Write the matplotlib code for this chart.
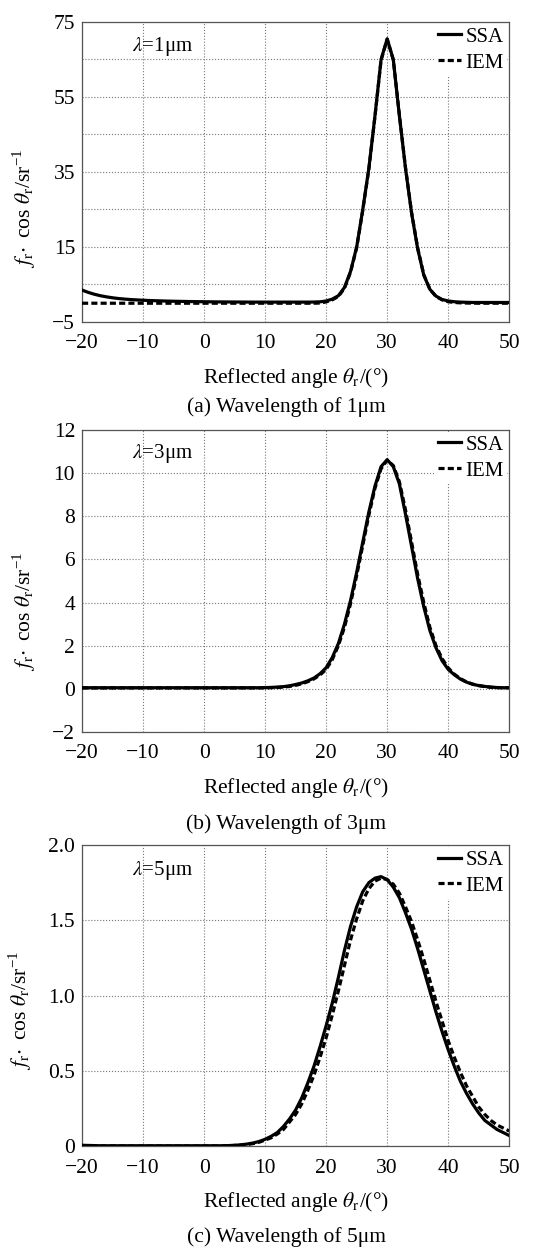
import numpy as np
import matplotlib
matplotlib.use("Agg")
import matplotlib.pyplot as plt

plt.rcParams['font.family'] = ['Liberation Serif', 'DejaVu Serif']
plt.rcParams['mathtext.fontset'] = 'stix'
plt.rcParams['font.size'] = 15

# reflected angle, degrees (one sample per degree)
angle = np.arange(-20, 51)

# (a) wavelength 1 um
ssa_1um = [3.5, 2.9, 2.4, 2.0, 1.7, 1.45, 1.25, 1.1, 0.98, 0.88, 0.8, 0.73, 0.67, 0.62, 0.57,
           0.53, 0.5, 0.47, 0.44, 0.42, 0.4, 0.38, 0.36, 0.35, 0.34, 0.33, 0.32, 0.31, 0.3, 0.3,
           0.3, 0.3, 0.3, 0.3, 0.3, 0.3, 0.3, 0.3, 0.32, 0.38, 0.6, 1.1, 2.0, 4.2, 8.5,
           15.0, 25.0, 36.0, 50.0, 65.0, 70.5, 65.0, 50.0, 36.0, 24.0, 14.5, 7.5, 3.7, 1.9, 1.0,
           0.6, 0.4, 0.3, 0.25, 0.2, 0.2, 0.2, 0.2, 0.2, 0.2, 0.2]
iem_1um = [0.0] * 39 + [0.05, 0.35, 0.9, 1.8, 4.0, 8.3,
           14.8, 24.8, 35.8, 49.8, 64.8, 70.4, 64.9, 50.2, 36.2, 24.2, 14.7, 7.6, 3.7, 1.8, 0.9,
           0.4, 0.2, 0.1, 0.05, 0.02, 0.0, 0.0, 0.0, 0.0, 0.0, 0.0]

# (b) wavelength 3 um
ssa_3um = [0.05] * 30 + [0.055, 0.065, 0.08, 0.1, 0.14, 0.2, 0.27, 0.37, 0.5, 0.7,
           0.98, 1.45, 2.1, 3.0, 4.1, 5.4, 6.8, 8.2, 9.4, 10.3, 10.62, 10.3, 9.5, 8.1, 6.6,
           5.1, 3.8, 2.7, 1.9, 1.3, 0.9, 0.65, 0.45, 0.31, 0.21, 0.15, 0.11, 0.08, 0.06, 0.05, 0.05]
iem_3um = [0.04] * 30 + [0.045, 0.05, 0.06, 0.08, 0.11, 0.16, 0.23, 0.33, 0.46, 0.64,
           0.9, 1.35, 2.0, 2.85, 3.95, 5.25, 6.65, 8.05, 9.3, 10.2, 10.6, 10.35, 9.6, 8.3, 6.8,
           5.3, 4.0, 2.85, 2.0, 1.4, 0.97, 0.68, 0.47, 0.32, 0.22, 0.15, 0.1, 0.07, 0.055, 0.05, 0.05]

# (c) wavelength 5 um
ssa_5um = [0.005, 0.004, 0.003] + [0.002] * 21 + [0.003, 0.005, 0.008, 0.013, 0.02, 0.03,
           0.045, 0.065, 0.09, 0.13, 0.18, 0.24, 0.32, 0.42, 0.53, 0.66,
           0.8, 0.95, 1.12, 1.3, 1.46, 1.59, 1.69, 1.75, 1.78, 1.79, 1.77, 1.72, 1.65, 1.55, 1.44,
           1.31, 1.17, 1.03, 0.89, 0.76, 0.64, 0.53, 0.43, 0.35, 0.28, 0.22, 0.17, 0.14, 0.11, 0.09, 0.07]
iem_5um = [0.0] * 24 + [0.002, 0.004, 0.006, 0.01, 0.016, 0.025,
           0.04, 0.055, 0.08, 0.11, 0.16, 0.21, 0.28, 0.37, 0.47, 0.59,
           0.72, 0.87, 1.03, 1.2, 1.37, 1.51, 1.63, 1.71, 1.76, 1.78, 1.77, 1.74, 1.68, 1.59, 1.49,
           1.37, 1.24, 1.1, 0.96, 0.83, 0.7, 0.59, 0.49, 0.4, 0.33, 0.26, 0.21, 0.17, 0.14, 0.12, 0.1]

x_ticks = [-20, -10, 0, 10, 20, 30, 40, 50]
panels = [
    dict(ssa=ssa_1um, iem=iem_1um, ylim=(-5, 75), yticks=[-5, 15, 35, 55, 75],
         ylabels=['\u22125', '15', '35', '55', '75'], yminor=[5, 25, 45, 65],
         wl='1', caption='(a) Wavelength of 1\u03bcm', label_y=68.5),
    dict(ssa=ssa_3um, iem=iem_3um, ylim=(-2, 12), yticks=[-2, 0, 2, 4, 6, 8, 10, 12],
         ylabels=['\u22122', '0', '2', '4', '6', '8', '10', '12'], yminor=[],
         wl='3', caption='(b) Wavelength of 3\u03bcm', label_y=10.9),
    dict(ssa=ssa_5um, iem=iem_5um, ylim=(0, 2.0), yticks=[0, 0.5, 1.0, 1.5, 2.0],
         ylabels=['0', '0.5', '1.0', '1.5', '2.0'], yminor=[],
         wl='5', caption='(c) Wavelength of 5\u03bcm', label_y=1.83),
]

# axes boxes in figure fraction: left, bottom, width, height
boxes = [(0.152, 0.742, 0.791, 0.2404),
         (0.152, 0.4135, 0.791, 0.242),
         (0.152, 0.0817, 0.791, 0.2412)]
caption_y = [0.674, 0.340, 0.009]
ylabel_pos = [0.38, 0.40, 0.45]

fig = plt.figure(figsize=(5.4, 12.48), dpi=100)

for p, box, cy, ly in zip(panels, boxes, caption_y, ylabel_pos):
    ax = fig.add_axes(box)
    ax.plot(angle, p['ssa'], color='black', lw=2.3, label='SSA', zorder=3)
    ax.plot(angle, p['iem'], color='black', lw=2.3, dashes=(1.9, 1.0), label='IEM', zorder=4)

    ax.set_xlim(-20, 50)
    ax.set_ylim(*p['ylim'])
    ax.set_xticks(x_ticks)
    ax.set_xticklabels([str(t).replace('-', '\u2212') for t in x_ticks])
    ax.set_yticks(p['yticks'])
    ax.set_yticklabels(p['ylabels'])
    if p['yminor']:
        ax.set_yticks(p['yminor'], minor=True)
    ax.tick_params(which='both', length=0, labelsize=15.5)
    ax.tick_params(axis='x', pad=9)
    ax.tick_params(axis='y', pad=5)
    ax.grid(True, which='both', color='#777777', ls=':', lw=0.8)
    for s in ax.spines.values():
        s.set_color('#555555')
        s.set_linewidth(0.9)

    ax.set_xlabel('Reflected angle $\\theta_\\mathrm{r}$/(\u00b0)', fontsize=15.5, labelpad=9)
    ax.set_ylabel('$f_\\mathrm{r}\\!\\cdot$ cos $\\theta_\\mathrm{r}$/sr$^{\\mathregular{-1}}$',
                  fontsize=15.5, labelpad=10)
    ax.yaxis.label.set_y(ly)

    ax.text(-11.8, p['label_y'], '$\\lambda$=' + p['wl'] + '\u03bcm', fontsize=15,
            va='center', ha='left')

    leg = ax.legend(loc='upper right', frameon=True, fontsize=15, handlelength=1.15,
                    handletextpad=0.2, labelspacing=0.3, borderpad=0.15,
                    borderaxespad=0.1, fancybox=False)
    leg.get_frame().set_edgecolor('none')
    leg.get_frame().set_facecolor('white')
    leg.get_frame().set_alpha(1)

    fig.text(0.53, cy, p['caption'], ha='center', va='center', fontsize=15.5)

fig.savefig('out.png', dpi=100)
